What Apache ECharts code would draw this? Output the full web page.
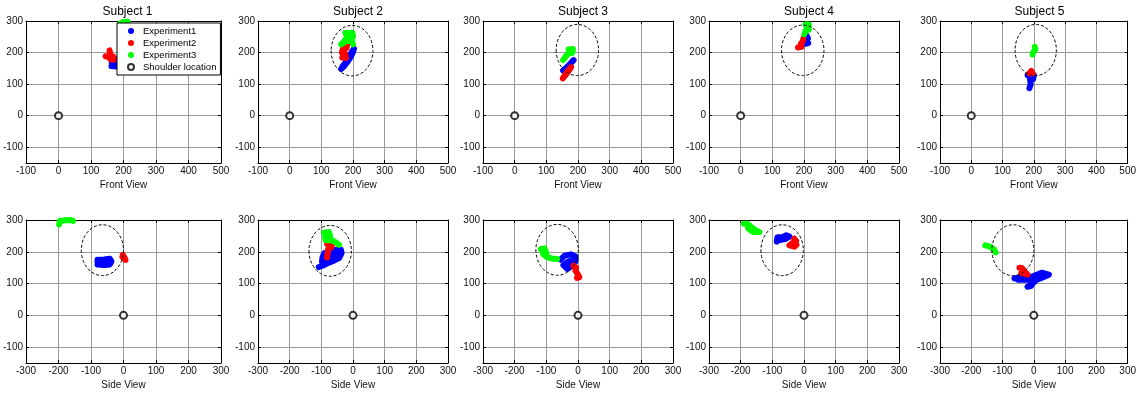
<!DOCTYPE html>
<html>
<head>
<meta charset="utf-8">
<script src="https://cdn.jsdelivr.net/npm/echarts@6/dist/echarts.min.js"></script>
<style>
  html, body { margin: 0; padding: 0; background: #fff; }
  #chart { width: 1139px; height: 393px; }
</style>
</head>
<body>
<div id="chart"></div>
<script>
// ---- labels and axis ranges ----
const subjectNames = ['Subject 1', 'Subject 2', 'Subject 3', 'Subject 4', 'Subject 5'];
const experimentNames = ['Experiment1', 'Experiment2', 'Experiment3'];
const shoulderName = 'Shoulder location';
const viewNames = ['Front View', 'Side View'];
const frontXRange = [-100, 500];
const sideXRange = [-300, 300];
const heightRange = [-150, 300];
const tickStep = 100;

// ---- hand trajectories, [horizontal, height] in mm ----
const s1FrontExp1 = [[163,157],[178,156],[176,166],[164,168],[165,178],[182,180],[195,178],[190,168]];
const s1FrontExp2 = [[145,188],[154,186],[160,178],[170,177],[169,187],[160,190],[157,196],[157,207]];
const s1FrontExp3 = [[190,292],[200,297],[212,298],[206,291]];
const s1SideExp1 = [[-80,160],[-58,158],[-42,160],[-37,170],[-42,178],[-60,176],[-80,175],[-80,167],[-55,167]];
const s1SideExp2 = [[-2,190],[3,182],[6,174],[8,170],[3,176],[-3,184],null,[-20,206],[-19,206]];
const s1SideExp3 = [[-198,286],[-196,297],[-180,299],[-162,300],[-155,297]];

const s2FrontExp1 = [[163,148],[172,157],[182,170],[192,185],[199,199],[203,212],[198,205],[188,188],[176,168],[166,155]];
const s2FrontExp2 = [[166,184],[178,183],[176,196],[165,200],[168,212],[180,214],[182,228]];
const s2FrontExp3 = [[176,262],[198,263],[200,250],[181,250],[176,240],[163,226],[177,236],[196,238],[200,226]];
const s2SideExp1 = [[-108,152],[-92,158],[-76,166],[-60,172],[-44,180],[-36,196],[-38,206],[-55,206],[-72,202],[-90,196],[-96,184],[-98,170],[-84,176],[-66,186],[-50,192]];
const s2SideExp2 = [[-82,225],[-66,226],[-68,214],[-78,210],[-80,196],[-82,182]];
const s2SideExp3 = [[-92,260],[-76,262],[-72,250],[-88,246],[-86,236],[-66,236],[-52,228],[-44,222]];

const s3FrontExp1 = [[153,143],[164,153],[176,165],[186,176]];
const s3FrontExp2 = [[152,118],[160,128],[170,141],[178,154],[174,150],[164,136],[156,124]];
const s3FrontExp3 = [[170,210],[184,211],[182,199],[168,196],[160,186],[153,176]];
const s3SideExp1 = [[-55,175],[-42,188],[-22,192],[-8,185],[-8,170],[-20,155],[-34,146],[-46,158],[-30,170],[-16,174]];
const s3SideExp2 = [[-14,156],[-6,150],[-8,140],[-1,130],[4,120],[-3,118]];
const s3SideExp3 = [[-117,208],[-106,211],[-100,196],[-110,193],[-98,183],[-84,179],[-66,177]];

const s4FrontExp1 = [[208,254],[213,244],[205,238],[213,230],[205,228]];
const s4FrontExp2 = [[181,216],[192,218],[190,228],[196,235],[198,244]];
const s4FrontExp3 = [[205,289],[215,289],[215,272],[206,271],[201,258]];
const s4SideExp1 = [[-86,232],[-84,246],[-68,246],[-56,252],[-46,248],[-60,240],[-80,236]];
const s4SideExp2 = [[-31,241],[-25,234],[-36,228],[-46,220],[-30,216],[-24,222]];
const s4SideExp3 = [[-190,288],[-178,288],[-168,279],[-156,270],[-141,262],[-160,262],[-176,274]];

const s5FrontExp1 = [[186,87],[190,100],[188,114],[198,116],[200,128],[180,128],[192,120]];
const s5FrontExp2 = [[186,134],[192,142],[198,147],[196,134]];
const s5FrontExp3 = [[203,218],[205,210],[198,201],[196,194]];
const s5SideExp1 = [[-62,116],[-40,120],[-15,118],[5,126],[25,134],[48,128],[30,120],[10,112],[-5,100],[-20,90],[-10,92],[5,112],[-20,112],[-50,112]];
const s5SideExp2 = [[-46,150],[-38,149],[-30,138],[-20,128],[-40,134]];
const s5SideExp3 = [[-155,220],[-140,216],[-128,208],[-122,198]];

// shoulder position (origin) and target ellipses [cx, cy, rx, ry]
const shoulderPoint = [0, 0];
const frontEllipses = [null, [197,206,66,80], [198,208,67,81], [196,207,67,80], [206,208,66,81]];
const sideEllipses = [[-65,205,65,80], [-72,203,67,80], [-66,206,67,80], [-69,205,67,80], [-67,205,67,80]];

const frontTrajectories = [
  [s1FrontExp1, s1FrontExp2, s1FrontExp3],
  [s2FrontExp1, s2FrontExp2, s2FrontExp3],
  [s3FrontExp1, s3FrontExp2, s3FrontExp3],
  [s4FrontExp1, s4FrontExp2, s4FrontExp3],
  [s5FrontExp1, s5FrontExp2, s5FrontExp3]
];
const sideTrajectories = [
  [s1SideExp1, s1SideExp2, s1SideExp3],
  [s2SideExp1, s2SideExp2, s2SideExp3],
  [s3SideExp1, s3SideExp2, s3SideExp3],
  [s4SideExp1, s4SideExp2, s4SideExp3],
  [s5SideExp1, s5SideExp2, s5SideExp3]
];

// ---- layout and style ----
const colLeft = [24, 258, 483, 709, 940];
const colWidth = [197, 190, 190, 190, 189];
const rowTop = [21, 220];
const rowHeight = [142, 143];
const expColors = ['#0000ff', '#ff0000', '#00ff00'];
const font = '"Liberation Sans", Arial, Helvetica, sans-serif';
const gridColor = '#9a9a9a';

const grids = [], xAxes = [], yAxes = [], titles = [], series = [];

function frameAxis(base, extra) {
  return Object.assign({
    type: 'value',
    axisLine: { show: true, onZero: false, lineStyle: { color: '#000', width: 1 } },
    axisTick: { show: true, inside: true, length: 3, lineStyle: { color: '#000', width: 1 } },
    axisLabel: { show: false },
    splitLine: { show: false }
  }, base, extra);
}

for (let row = 0; row < 2; row++) {
  for (let col = 0; col < 5; col++) {
    const gi = grids.length;
    grids.push({ left: colLeft[col], top: rowTop[row], width: colWidth[col], height: rowHeight[row] });
    const xr = row === 0 ? frontXRange : sideXRange;
    const xb = { gridIndex: gi, min: xr[0], max: xr[1], interval: tickStep };
    const yb = { gridIndex: gi, min: heightRange[0], max: heightRange[1] };
    const xMain = xAxes.length;
    xAxes.push(frameAxis(xb, {
      position: 'bottom',
      name: viewNames[row], nameLocation: 'middle', nameGap: 17,
      nameTextStyle: { fontSize: 10, color: '#111', fontFamily: font },
      axisLabel: { show: true, fontSize: 10, color: '#111', fontFamily: font, margin: 3 },
      splitLine: { show: true, lineStyle: { color: gridColor, width: 1 } }
    }));
    xAxes.push(frameAxis(xb, { position: 'top' }));
    const yMain = yAxes.length;
    yAxes.push(frameAxis(yb, {
      position: 'left',
      axisLabel: { show: true, fontSize: 10, color: '#111', fontFamily: font, margin: 3, showMinLabel: false },
      splitLine: { show: true, lineStyle: { color: gridColor, width: 1 } }
    }));
    yAxes.push(frameAxis(yb, { position: 'right' }));

    const paths = row === 0 ? frontTrajectories[col] : sideTrajectories[col];
    paths.forEach((path, k) => {
      series.push({
        type: 'line', name: experimentNames[k],
        xAxisIndex: xMain, yAxisIndex: yMain,
        data: path, showSymbol: false, symbol: 'none', connectNulls: false,
        color: expColors[k],
        lineStyle: { color: expColors[k], width: 6, cap: 'round', join: 'round' },
        itemStyle: { color: expColors[k] },
        clip: false, silent: true, animation: false, z: 2
      });
    });

    const ell = row === 0 ? frontEllipses[col] : sideEllipses[col];
    if (ell) {
      series.push({
        type: 'custom', xAxisIndex: xMain, yAxisIndex: yMain,
        data: [ell], silent: true, animation: false, z: 3, clip: false,
        renderItem: function (params, api) {
          const cx = api.value(0), cy = api.value(1), rx = api.value(2), ry = api.value(3);
          const c = api.coord([cx, cy]);
          const e = api.coord([cx + rx, cy + ry]);
          const a = Math.abs(e[0] - c[0]), b = Math.abs(c[1] - e[1]);
          return {
            type: 'path',
            shape: { pathData: 'M' + (c[0] - a) + ' ' + c[1] + ' A' + a + ' ' + b + ' 0 1 0 ' + (c[0] + a) + ' ' + c[1] +
                               ' A' + a + ' ' + b + ' 0 1 0 ' + (c[0] - a) + ' ' + c[1] + ' Z' },
            style: { fill: 'none', stroke: '#000', lineWidth: 1, lineDash: [3, 2] }
          };
        }
      });
    }

    series.push({
      type: 'scatter', name: shoulderName,
      xAxisIndex: xMain, yAxisIndex: yMain,
      data: [shoulderPoint], symbol: 'emptyCircle', symbolSize: 7,
      itemStyle: { color: '#000', borderColor: '#000', borderWidth: 2 },
      silent: true, animation: false, z: 4
    });

    if (row === 0) {
      titles.push({
        text: subjectNames[col], left: colLeft[col] + colWidth[col] / 2, top: 1, textAlign: 'center',
        textStyle: { fontSize: 12, fontWeight: 'normal', color: '#000', fontFamily: font }
      });
    }
  }
}

const chart = echarts.init(document.getElementById('chart'), null, { renderer: 'canvas' });
chart.setOption({
  backgroundColor: '#fff',
  animation: false,
  title: titles,
  grid: grids,
  xAxis: xAxes,
  yAxis: yAxes,
  legend: {
    orient: 'vertical', left: 117, top: 23,
    padding: [2, 4, 2, 10], itemGap: 0, itemWidth: 6, itemHeight: 6,
    borderColor: '#000', borderWidth: 1, backgroundColor: '#fff', borderRadius: 0,
    selectedMode: false, z: 10,
    textStyle: { fontSize: 9.5, lineHeight: 12, color: '#000', fontFamily: font, padding: [0, 0, 0, 4] },
    data: [
      { name: experimentNames[0], icon: 'circle' },
      { name: experimentNames[1], icon: 'circle' },
      { name: experimentNames[2], icon: 'circle' },
      { name: shoulderName, icon: 'emptyCircle' }
    ]
  },
  series: series
});
</script>
</body>
</html>
